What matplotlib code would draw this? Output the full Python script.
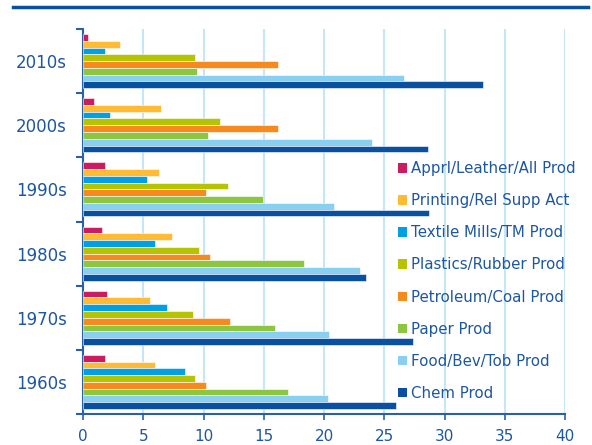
import numpy as np
import matplotlib
matplotlib.use('Agg')
import matplotlib.pyplot as plt
from matplotlib.patches import Patch
from matplotlib.lines import Line2D

decades = ['1960s', '1970s', '1980s', '1990s', '2000s', '2010s']

# series listed top -> bottom inside each group
series = ['Apprl/Leather/All Prod', 'Printing/Rel Supp Act', 'Textile Mills/TM Prod',
          'Plastics/Rubber Prod', 'Petroleum/Coal Prod', 'Paper Prod',
          'Food/Bev/Tob Prod', 'Chem Prod']

apprl = [1.8, 2.0, 1.55, 1.8, 0.9, 0.4]
printing = [6.0, 5.6, 7.4, 6.3, 6.5, 3.1]
textile = [8.5, 7.0, 6.0, 5.3, 2.2, 1.8]
plastics = [9.3, 9.1, 9.6, 12.0, 11.4, 9.3]
petroleum = [10.2, 12.2, 10.5, 10.2, 16.2, 16.2]
paper = [17.0, 15.9, 18.3, 14.9, 10.4, 9.5]
food = [20.3, 20.4, 23.0, 20.8, 24.0, 26.6]
chem = [26.0, 27.4, 23.5, 28.7, 28.6, 33.2]

values = [apprl, printing, textile, plastics, petroleum, paper, food, chem]
colors = ['#cc1b5f', '#ffbb33', '#00a0e2', '#b6c300', '#f58a1f', '#8cc63e',
          '#88cff0', '#0a50a1']

text_blue = '#1d56a3'
axis_blue = '#2a60aa'

fig = plt.figure(figsize=(5.92, 4.45), dpi=100)
ax = fig.add_axes([83 / 592, 1 - 414 / 445, 482 / 592, 385 / 445])

y = np.arange(len(decades))
step = 54 / 64 / 8
for i, (vals, c, name) in enumerate(zip(values, colors, series)):
    ax.barh(y + (3.5 - i) * step, vals, height=step, color=c,
            edgecolor='white', linewidth=0.4, label=name, zorder=3)

ax.set_xlim(0, 40)
ax.set_ylim(-0.5, 5.5)
ax.set_xticks(np.arange(0, 41, 5))
ax.xaxis.grid(True, color='#c4e7f7', linewidth=1.5, zorder=0)
ax.set_axisbelow(True)

ax.set_yticks(np.arange(-0.5, 6, 1))
ax.set_yticklabels([])
ax.set_yticks(y, minor=True)
ax.set_yticklabels(decades, minor=True)
ax.tick_params(axis='y', which='minor', length=0, pad=11.5, labelsize=12, labelcolor=text_blue)
ax.tick_params(axis='y', which='major', length=5, width=1.5, color=axis_blue)
ax.tick_params(axis='x', length=4, width=1.2, color=axis_blue, labelsize=11,
               labelcolor=text_blue, pad=6.5)

for s in ['top', 'right']:
    ax.spines[s].set_visible(False)
for s in ['left', 'bottom']:
    ax.spines[s].set_color(axis_blue)
    ax.spines[s].set_linewidth(1.5)

handles = [Patch(facecolor=c, edgecolor='none') for c in colors]
leg = ax.legend(handles, series, loc='center left',
                bbox_to_anchor=(390 / 592, 1 - 281 / 445), bbox_transform=fig.transFigure,
                frameon=False, fontsize=10.8, borderpad=0, handlelength=0.6,
                handleheight=0.6, handletextpad=0.3, labelspacing=1.14)
for t in leg.get_texts():
    t.set_color(text_blue)

fig.add_artist(Line2D([13 / 592, 588 / 592], [1 - 6.5 / 445] * 2,
                      color='#0b4fa0', linewidth=2.5))

fig.savefig('out.png', dpi=100)
